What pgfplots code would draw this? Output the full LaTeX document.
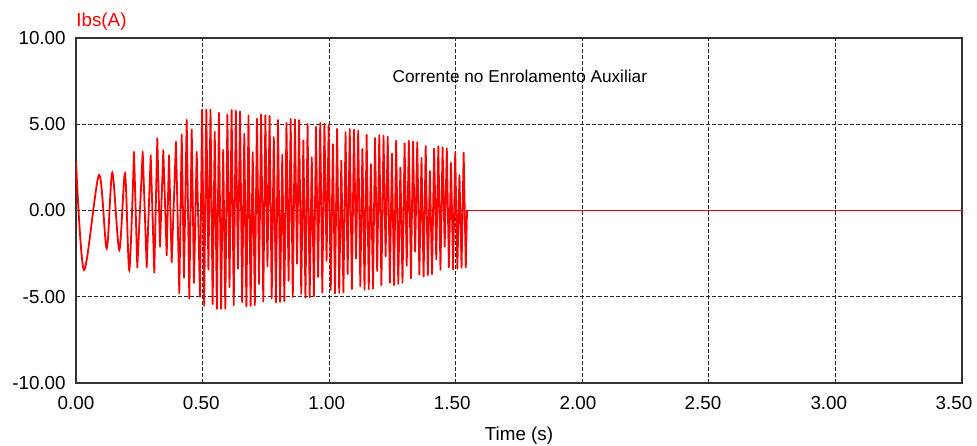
\documentclass[border=0pt]{standalone}
\usepackage{fontspec}
\setmainfont{Liberation Sans}
\usepackage{pgfplots}
\pgfplotsset{compat=1.18}

% early, slow part of the current (drawn smooth)
\pgfplotstableread{
t y
0.0000 2.85
0.0316 -3.45
0.0909 2.06
0.1213 -2.20
0.1434 2.19
0.1711 -2.29
0.1936 2.15
0.2106 -3.45
0.2291 3.41
}\early

% dense part, peaks and troughs
\pgfplotstableread{
t y
0.2291 3.41
0.2422 -3.30
0.2635 3.41
0.2793 -3.30
0.2951 3.20
0.3093 -3.60
0.3212 4.19
0.3318 -2.10
0.3449 3.50
0.3583 -2.60
0.3674 3.20
0.3780 -3.00
0.3950 3.99
0.4081 -4.80
0.4176 4.40
0.4266 -3.90
0.4373 5.25
0.4476 -5.10
0.4571 4.70
0.4661 -4.20
0.4768 3.40
0.4898 -5.00
0.4981 5.85
0.5064 -5.53
0.5148 5.85
0.5231 -3.42
0.5314 5.85
0.5398 -5.42
0.5481 4.56
0.5564 -5.70
0.5648 5.67
0.5731 -5.70
0.5814 3.51
0.5898 -5.70
0.5981 5.56
0.6064 -4.44
0.6148 5.82
0.6231 -5.49
0.6314 5.78
0.6398 -3.37
0.6481 5.74
0.6564 -5.31
0.6648 4.45
0.6731 -5.56
0.6814 5.50
0.6898 -5.53
0.6981 3.38
0.7064 -5.49
0.7148 5.32
0.7231 -4.26
0.7314 5.56
0.7398 -5.27
0.7481 5.52
0.7564 -3.24
0.7648 5.48
0.7731 -5.09
0.7814 4.25
0.7898 -5.33
0.7981 5.25
0.8064 -5.29
0.8148 3.23
0.8231 -5.25
0.8314 5.08
0.8398 -4.07
0.8481 5.31
0.8564 -5.02
0.8648 5.28
0.8731 -3.08
0.8814 5.24
0.8898 -4.84
0.8981 4.06
0.9064 -5.06
0.9148 5.02
0.9231 -5.02
0.9314 3.08
0.9398 -4.98
0.9481 4.85
0.9564 -3.86
0.9648 5.07
0.9731 -4.76
0.9814 5.03
0.9898 -2.92
0.9981 4.98
1.0064 -4.60
1.0148 3.85
1.0231 -4.81
1.0314 4.73
1.0398 -4.78
1.0481 2.90
1.0564 -4.75
1.0648 4.54
1.0731 -3.68
1.0814 4.73
1.0898 -4.55
1.0981 4.68
1.1064 -2.79
1.1148 4.63
1.1231 -4.39
1.1314 3.57
1.1398 -4.59
1.1481 4.39
1.1564 -4.56
1.1648 2.69
1.1731 -4.53
1.1814 4.21
1.1898 -3.51
1.1981 4.38
1.2064 -4.33
1.2148 4.33
1.2231 -2.66
1.2314 4.28
1.2398 -4.18
1.2481 3.30
1.2564 -4.33
1.2648 4.05
1.2731 -4.26
1.2814 2.48
1.2898 -4.19
1.2981 3.89
1.3064 -3.21
1.3148 4.04
1.3231 -3.93
1.3314 4.00
1.3398 -2.39
1.3481 3.95
1.3564 -3.71
1.3648 3.05
1.3731 -3.83
1.3814 3.74
1.3898 -3.76
1.3981 2.29
1.4064 -3.69
1.4148 3.58
1.4231 -2.83
1.4314 3.72
1.4398 -3.44
1.4481 3.67
1.4564 -2.10
1.4648 3.60
1.4731 -3.29
1.4814 2.76
1.4898 -3.41
1.4981 3.37
1.5064 -3.37
1.5148 2.05
1.5231 -3.32
1.5314 3.35
1.5398 -3.30
1.5446 0.00
}\dense

% after the winding is switched off
\pgfplotstableread{
t y
1.5446 0.00
3.5000 0.00
}\off

\begin{document}
\begin{tikzpicture}
\begin{axis}[
  name=ax,
  scale only axis,
  width=443pt, height=172.5pt,
  xmin=0, xmax=3.5, ymin=-10, ymax=10,
  xtick={0,0.5,1,1.5,2,2.5,3,3.5},
  % labels drift slightly left of their grid lines, as in the original
  xticklabels={0.00,
    \hspace*{-1.3pt}0.50,
    \hspace*{-2.4pt}1.00,
    \hspace*{-3.5pt}1.50,
    \hspace*{-4.3pt}2.00,
    \hspace*{-5.9pt}2.50,
    \hspace*{-6.6pt}3.00,
    \hspace*{-8pt}3.50},
  ytick={-10,-5,0,5,10},
  yticklabels={-10.00,-5.00,0.00,5.00,10.00},
  major tick length=0pt,
  grid=major,
  major grid style={black!85, line width=0.5pt, dash pattern=on 2pt off 1pt},
  axis line style={black!80, line width=0.6pt},
  tick label style={font=\fontsize{9.4}{11}\selectfont},
  yticklabel style={inner sep=0pt, xshift=-5pt},
  xticklabel style={inner sep=0pt, yshift=-6.5pt},
  xlabel={Time (s)},
  xlabel style={font=\fontsize{9.4}{11}\selectfont, at={(axis description cs:0.5,0)}, anchor=center, yshift=-26.5pt, inner sep=0pt},
  ylabel={Ibs(A)},
  ylabel style={font=\fontsize{9.4}{11}\selectfont, text=red, rotate=-90, at={(axis description cs:0,1)}, anchor=west, yshift=8.25pt, inner sep=0pt},
  title={Corrente no Enrolamento Auxiliar},
  every axis title shift=0pt,
  title style={font=\fontsize{8.6}{11}\selectfont, at={(axis description cs:0.501,0.89)}, anchor=center, inner sep=0pt},
]
\addplot[red, line width=0.9pt, smooth, tension=0.5] table[x=t, y=y] {\early};
\addplot[red, line width=0.9pt, line join=round] table[x=t, y=y] {\dense};
\addplot[red, line width=0.5pt] table[x=t, y=y] {\off};
\end{axis}
\pgfresetboundingbox
\path[use as bounding box] ([xshift=-38pt, yshift=-31pt]ax.south west) rectangle ([xshift=7.5pt, yshift=19pt]ax.north east);
\end{tikzpicture}
\end{document}
